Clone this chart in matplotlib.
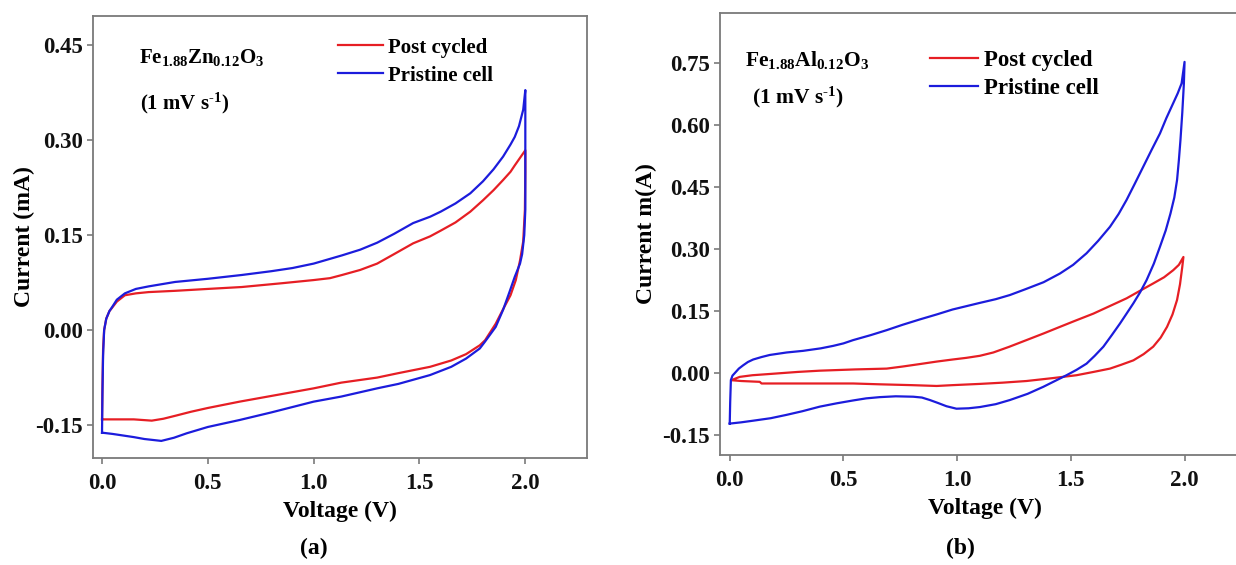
import matplotlib
matplotlib.use("Agg")
import matplotlib.pyplot as plt

# ---- cyclic voltammetry data (voltage in V, current in mA) ----
# Panel (a): Fe1.88Zn0.12O3
a_post_v = [0.0, 0.002, 0.005, 0.01, 0.02, 0.035, 0.047, 0.07, 0.108, 0.16, 0.22, 0.345,
            0.5, 0.66, 0.85, 1.0, 1.077, 1.134, 1.22, 1.3, 1.38, 1.47, 1.55, 1.6, 1.67,
            1.74, 1.8, 1.85, 1.895, 1.93, 1.95, 1.975, 2.0,
            2.0, 1.998, 1.99, 1.975, 1.955, 1.93, 1.895, 1.86, 1.81, 1.785, 1.72, 1.65,
            1.55, 1.4, 1.3, 1.13, 1.0, 0.8, 0.65, 0.5, 0.42, 0.35, 0.29, 0.235, 0.15,
            0.05, 0.0]
a_post_i = [-0.141, -0.09, -0.03, 0.0, 0.018, 0.03, 0.035, 0.045, 0.055, 0.058, 0.060, 0.062,
            0.065, 0.068, 0.074, 0.079, 0.082, 0.087, 0.095, 0.105, 0.12, 0.137, 0.148, 0.157,
            0.170, 0.187, 0.205, 0.221, 0.237, 0.25, 0.26, 0.272, 0.284,
            0.25, 0.19, 0.14, 0.11, 0.079, 0.055, 0.033, 0.01, -0.016, -0.024, -0.038, -0.048,
            -0.058, -0.068, -0.075, -0.083, -0.092, -0.104, -0.113, -0.123, -0.129, -0.135,
            -0.14, -0.143, -0.141, -0.141, -0.141]

a_pristine_v = [0.0, 0.002, 0.005, 0.01, 0.02, 0.035, 0.047, 0.07, 0.108, 0.16, 0.22, 0.345,
                0.5, 0.66, 0.8, 0.9, 1.0, 1.134, 1.22, 1.3, 1.38, 1.47, 1.55, 1.6, 1.67, 1.74,
                1.8, 1.85, 1.895, 1.93, 1.95, 1.97, 1.99, 2.0,
                2.0, 1.995, 1.985, 1.975, 1.95, 1.925, 1.895, 1.86, 1.81, 1.785, 1.72, 1.65,
                1.55, 1.4, 1.3, 1.13, 1.0, 0.8, 0.65, 0.5, 0.4, 0.34, 0.28, 0.2, 0.15, 0.05,
                0.0]
a_pristine_i = [-0.162, -0.10, -0.04, 0.0, 0.018, 0.03, 0.036, 0.048, 0.058, 0.065, 0.069, 0.076,
                0.081, 0.087, 0.093, 0.098, 0.105, 0.118, 0.127, 0.138, 0.152, 0.169, 0.179,
                0.187, 0.200, 0.216, 0.235, 0.254, 0.274, 0.293, 0.305, 0.322, 0.348, 0.379,
                0.19, 0.15, 0.12, 0.105, 0.084, 0.06, 0.032, 0.005, -0.018, -0.029, -0.045,
                -0.058, -0.071, -0.085, -0.092, -0.105, -0.113, -0.13, -0.142, -0.153, -0.163,
                -0.17, -0.175, -0.172, -0.169, -0.164, -0.162]

# Panel (b): Fe1.88Al0.12O3
b_post_v = [0.007, 0.044, 0.1, 0.176, 0.3, 0.396, 0.55, 0.69, 0.76, 0.836, 0.91, 0.98, 1.04,
            1.1, 1.159, 1.23, 1.305, 1.38, 1.452, 1.52, 1.599, 1.67, 1.745, 1.80, 1.862, 1.91,
            1.95, 1.975, 1.995,
            1.99, 1.98, 1.967, 1.947, 1.923, 1.895, 1.862, 1.82, 1.775, 1.72, 1.672, 1.6,
            1.525, 1.42, 1.305, 1.2, 1.1, 0.98, 0.91, 0.8, 0.66, 0.543, 0.3, 0.14, 0.132,
            0.05, 0.007]
b_post_i = [-0.017, -0.009, -0.005, -0.002, 0.003, 0.006, 0.009, 0.011, 0.016, 0.022, 0.028,
            0.033, 0.037, 0.042, 0.050, 0.064, 0.080, 0.096, 0.112, 0.127, 0.144, 0.162, 0.181,
            0.198, 0.217, 0.232, 0.249, 0.262, 0.281,
            0.257, 0.215, 0.177, 0.142, 0.112, 0.086, 0.064, 0.046, 0.031, 0.020, 0.011, 0.003,
            -0.005, -0.012, -0.019, -0.023, -0.026, -0.029, -0.031, -0.029, -0.027, -0.025,
            -0.025, -0.025, -0.021, -0.019, -0.017]

b_pristine_v = [0.0, 0.002, 0.005, 0.012, 0.022, 0.04, 0.059, 0.08, 0.103, 0.14, 0.176, 0.25,
                0.323, 0.4, 0.455, 0.5, 0.543, 0.62, 0.69, 0.76, 0.836, 0.91, 0.98, 1.04, 1.1,
                1.17, 1.232, 1.3, 1.38, 1.452, 1.51, 1.569, 1.62, 1.672, 1.71, 1.745, 1.78,
                1.818, 1.855, 1.892, 1.92, 1.95, 1.97, 1.987, 2.0,
                1.997, 1.99, 1.982, 1.975, 1.967, 1.955, 1.938, 1.917, 1.892, 1.865, 1.833,
                1.805, 1.775, 1.745, 1.716, 1.68, 1.643, 1.605, 1.569, 1.525, 1.481, 1.43,
                1.379, 1.31, 1.232, 1.17, 1.1, 1.05, 0.997, 0.953, 0.915, 0.88, 0.845, 0.807,
                0.73, 0.66, 0.6, 0.543, 0.47, 0.396, 0.32, 0.249, 0.18, 0.103, 0.05, 0.0]
b_pristine_i = [-0.122, -0.07, -0.017, -0.006, 0.0, 0.011, 0.019, 0.027, 0.033, 0.039, 0.044,
                0.050, 0.054, 0.060, 0.066, 0.072, 0.080, 0.092, 0.104, 0.117, 0.130, 0.142,
                0.154, 0.162, 0.170, 0.179, 0.189, 0.203, 0.220, 0.241, 0.262, 0.290, 0.320,
                0.354, 0.385, 0.419, 0.457, 0.499, 0.540, 0.580, 0.617, 0.653, 0.677, 0.701,
                0.753,
                0.70, 0.63, 0.564, 0.515, 0.467, 0.425, 0.386, 0.345, 0.306, 0.265, 0.225,
                0.196, 0.169, 0.144, 0.120, 0.092, 0.064, 0.042, 0.023, 0.008, -0.005, -0.019,
                -0.033, -0.05, -0.065, -0.075, -0.082, -0.085, -0.086, -0.080, -0.072, -0.065,
                -0.059, -0.057, -0.056, -0.058, -0.061, -0.066, -0.073, -0.081, -0.092, -0.101,
                -0.109, -0.115, -0.119, -0.122]

x_ticks = [0.0, 0.5, 1.0, 1.5, 2.0]
x_tick_labels = ["0.0", "0.5", "1.0", "1.5", "2.0"]
a_y_ticks = [-0.15, 0.0, 0.15, 0.30, 0.45]
a_y_tick_labels = ["-0.15", "0.00", "0.15", "0.30", "0.45"]
b_y_ticks = [-0.15, 0.0, 0.15, 0.30, 0.45, 0.60, 0.75]
b_y_tick_labels = ["-0.15", "0.00", "0.15", "0.30", "0.45", "0.60", "0.75"]

series_labels = ["Post cycled", "Pristine cell"]

# ---- styling ----
plt.rcParams["font.family"] = ["Liberation Serif", "DejaVu Serif"]
plt.rcParams["font.weight"] = "bold"
plt.rcParams["mathtext.fontset"] = "custom"
plt.rcParams["mathtext.rm"] = "Liberation Serif:bold"
plt.rcParams["mathtext.bf"] = "Liberation Serif:bold"
plt.rcParams["mathtext.it"] = "Liberation Serif:bold"

RED = "#e61e24"
BLUE = "#1c1cdc"
SPINE = "#7a7a7a"

W, H = 1236, 565
fig = plt.figure(figsize=(W / 100, H / 100), dpi=100)


def px_axes(left, top, right, bottom):
    return fig.add_axes([left / W, 1 - bottom / H, (right - left) / W, (bottom - top) / H])


def style(ax, yticks, ylabels, tick_fs):
    for side in ("top", "right", "bottom", "left"):
        ax.spines[side].set_color(SPINE)
        ax.spines[side].set_linewidth(1.3)
    ax.set_xticks(x_ticks)
    ax.set_xticklabels(x_tick_labels)
    ax.set_yticks(yticks)
    ax.set_yticklabels(ylabels)
    ax.tick_params(axis="both", direction="out", length=4, width=1.2, color=SPINE,
                   labelsize=tick_fs, labelcolor="#111111")
    ax.tick_params(axis="x", pad=7)
    ax.tick_params(axis="y", pad=3)
    for lab in ax.get_xticklabels() + ax.get_yticklabels():
        lab.set_fontweight("bold")


LW = 1.6
RATE = r"(1 mV s$^{\text{-}1}$)"

# ---- panel (a) ----
ax1 = px_axes(92.5, 16, 586.7, 458)
ax1.plot(a_post_v, a_post_i, color=RED, lw=LW, label=series_labels[0])
ax1.plot(a_pristine_v, a_pristine_i, color=BLUE, lw=LW, label=series_labels[1])
ax1.set_xlim(-0.045, 2.29)
ax1.set_ylim(-0.202, 0.496)
style(ax1, a_y_ticks, a_y_tick_labels, 16.5)
ax1.set_xlabel("Voltage (V)", fontsize=17, fontweight="bold", labelpad=5)
ax1.set_ylabel("Current (mA)", fontsize=17, fontweight="bold", labelpad=0)
ax1.text(0.094, 0.894, r"Fe$_{1.88}$Zn$_{0.12}$O$_{3}$", transform=ax1.transAxes,
         fontsize=15, fontweight="bold", ha="left", va="baseline")
ax1.text(0.096, 0.79, RATE, transform=ax1.transAxes,
         fontsize=15, fontweight="bold", ha="left", va="baseline")
ax1.legend(loc="upper left", bbox_to_anchor=(0.497, 0.951), frameon=False,
           fontsize=15, handlelength=2.15, handletextpad=0.25, labelspacing=0.38,
           borderpad=0, borderaxespad=0)

# ---- panel (b) ----
ax2 = px_axes(719.5, 12.7, 1250.5, 455)
ax2.plot(b_post_v, b_post_i, color=RED, lw=LW, label=series_labels[0])
ax2.plot(b_pristine_v, b_pristine_i, color=BLUE, lw=LW, label=series_labels[1])
ax2.set_xlim(-0.045, 2.29)
ax2.set_ylim(-0.198, 0.872)
style(ax2, b_y_ticks, b_y_tick_labels, 16.5)
ax2.set_xlabel("Voltage (V)", fontsize=17, fontweight="bold", labelpad=5)
ax2.set_ylabel("Current m(A)", fontsize=17, fontweight="bold", labelpad=4)
ax2.text(0.048, 0.8795, r"Fe$_{1.88}$Al$_{0.12}$O$_{3}$", transform=ax2.transAxes,
         fontsize=15.5, fontweight="bold", ha="left", va="baseline")
ax2.text(0.061, 0.795, RATE, transform=ax2.transAxes,
         fontsize=15.5, fontweight="bold", ha="left", va="baseline")
ax2.legend(loc="upper left", bbox_to_anchor=(0.396, 0.915), frameon=False,
           fontsize=16.5, handlelength=2.1, handletextpad=0.25, labelspacing=0.3,
           borderpad=0, borderaxespad=0)

# ---- panel captions ----
fig.text(314 / W, 1 - 548 / H, "(a)", fontsize=17, fontweight="bold",
         ha="center", va="center")
fig.text(960 / W, 1 - 548 / H, "(b)", fontsize=17, fontweight="bold",
         ha="center", va="center")

fig.savefig("out.png", dpi=100)
